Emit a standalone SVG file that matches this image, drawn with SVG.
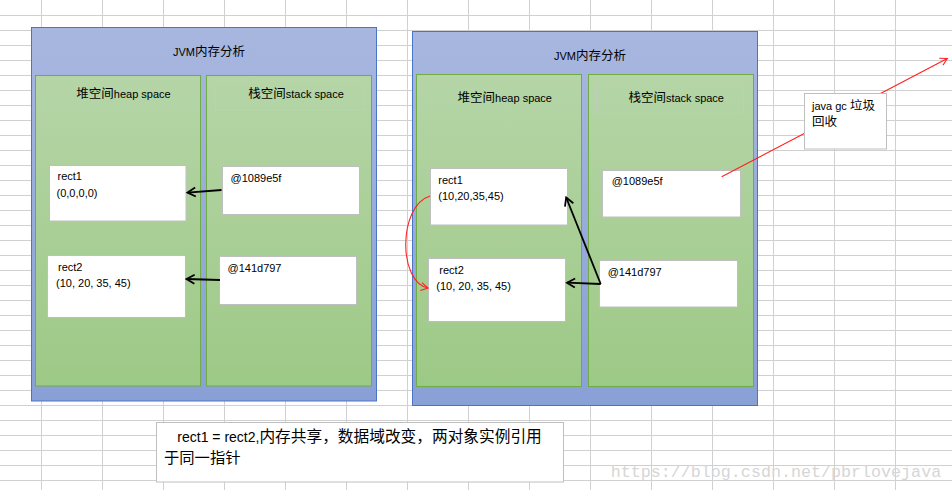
<svg xmlns="http://www.w3.org/2000/svg" width="952" height="490" viewBox="0 0 952 490">
<defs>
<linearGradient id="gBlue" x1="0" y1="0" x2="0" y2="1"><stop offset="0" stop-color="#a8b7df"/><stop offset="1" stop-color="#89a0d6"/></linearGradient>
<linearGradient id="gGreen" x1="0" y1="0" x2="0" y2="1"><stop offset="0" stop-color="#b5d5a7"/><stop offset="1" stop-color="#9dc986"/></linearGradient>
<marker id="ah" viewBox="-10 -6 12 12" refX="0" refY="0" markerWidth="12" markerHeight="12" markerUnits="userSpaceOnUse" orient="auto">
<path d="M-8,-4.5 L0,0 L-8,4.5" fill="none" stroke="#000" stroke-width="1.8"/>
</marker>
<marker id="ahr" viewBox="-10 -6 12 12" refX="0" refY="0" markerWidth="12" markerHeight="12" markerUnits="userSpaceOnUse" orient="auto">
<path d="M-7,-4 L0,0 L-7,4" fill="none" stroke="#ff2020" stroke-width="1.1"/>
</marker>
</defs>
<style>
.grid line{stroke:#d0d0d0;stroke-width:1}
.jvm{fill:url(#gBlue);stroke:#4a74c4;stroke-width:1}
.panel{fill:url(#gGreen);stroke:#6fac46;stroke-width:1}
.hdr{fill:none;stroke:#c2cbbd;stroke-width:1}
.box{fill:#fff;stroke:#bfbfbf;stroke-width:1}
text{font-family:"Liberation Sans","Noto Sans CJK SC",sans-serif;fill:#000;font-size:11px}
.cjk{font-family:"Noto Sans CJK SC","Liberation Sans",sans-serif;font-size:12.5px}
.arr{fill:none;stroke:#000;stroke-width:1.8;marker-end:url(#ah)}
.red{fill:none;stroke:#ff2020;stroke-width:1.1;marker-end:url(#ahr)}
</style>
<rect x="0" y="0" width="952" height="490" fill="#fff"/>
<g class="grid">
<line x1="41.5" y1="0" x2="41.5" y2="490"/><line x1="102.5" y1="0" x2="102.5" y2="490"/><line x1="163.5" y1="0" x2="163.5" y2="490"/><line x1="224.5" y1="0" x2="224.5" y2="490"/><line x1="285.5" y1="0" x2="285.5" y2="490"/><line x1="346.5" y1="0" x2="346.5" y2="490"/><line x1="407.5" y1="0" x2="407.5" y2="490"/><line x1="468.5" y1="0" x2="468.5" y2="490"/><line x1="529.5" y1="0" x2="529.5" y2="490"/><line x1="590.5" y1="0" x2="590.5" y2="490"/><line x1="651.5" y1="0" x2="651.5" y2="490"/><line x1="712.5" y1="0" x2="712.5" y2="490"/><line x1="773.5" y1="0" x2="773.5" y2="490"/><line x1="834.5" y1="0" x2="834.5" y2="490"/><line x1="895.5" y1="0" x2="895.5" y2="490"/>
<line x1="0" y1="15.5" x2="952" y2="15.5"/><line x1="0" y1="30.5" x2="952" y2="30.5"/><line x1="0" y1="45.5" x2="952" y2="45.5"/><line x1="0" y1="60.5" x2="952" y2="60.5"/><line x1="0" y1="75.5" x2="952" y2="75.5"/><line x1="0" y1="90.5" x2="952" y2="90.5"/><line x1="0" y1="105.5" x2="952" y2="105.5"/><line x1="0" y1="120.5" x2="952" y2="120.5"/><line x1="0" y1="135.5" x2="952" y2="135.5"/><line x1="0" y1="150.5" x2="952" y2="150.5"/><line x1="0" y1="165.5" x2="952" y2="165.5"/><line x1="0" y1="180.5" x2="952" y2="180.5"/><line x1="0" y1="195.5" x2="952" y2="195.5"/><line x1="0" y1="210.5" x2="952" y2="210.5"/><line x1="0" y1="225.5" x2="952" y2="225.5"/><line x1="0" y1="240.5" x2="952" y2="240.5"/><line x1="0" y1="255.5" x2="952" y2="255.5"/><line x1="0" y1="270.5" x2="952" y2="270.5"/><line x1="0" y1="285.5" x2="952" y2="285.5"/><line x1="0" y1="300.5" x2="952" y2="300.5"/><line x1="0" y1="315.5" x2="952" y2="315.5"/><line x1="0" y1="330.5" x2="952" y2="330.5"/><line x1="0" y1="345.5" x2="952" y2="345.5"/><line x1="0" y1="360.5" x2="952" y2="360.5"/><line x1="0" y1="375.5" x2="952" y2="375.5"/><line x1="0" y1="390.5" x2="952" y2="390.5"/><line x1="0" y1="405.5" x2="952" y2="405.5"/><line x1="0" y1="420.5" x2="952" y2="420.5"/><line x1="0" y1="435.5" x2="952" y2="435.5"/><line x1="0" y1="450.5" x2="952" y2="450.5"/><line x1="0" y1="465.5" x2="952" y2="465.5"/><line x1="0" y1="480.5" x2="952" y2="480.5"/>
</g>

<g id="jvm-left">
<rect class="jvm" x="31.5" y="27.5" width="345" height="373.5"/>
<text x="209" y="56" text-anchor="middle">JVM<tspan class="cjk">内存分析</tspan></text>
</g>
<g id="heap-left">
<rect class="panel" x="35.5" y="75.5" width="165" height="310.5"/>
<text x="123.5" y="98" text-anchor="middle"><tspan class="cjk">堆空间</tspan>heap space</text>
</g>
<g id="stack-left">
<rect class="panel" x="206.5" y="75.5" width="165" height="310.5"/>
<rect class="hdr" x="215.5" y="81.5" width="148" height="28"/>
<text x="296" y="98" text-anchor="middle"><tspan class="cjk">栈空间</tspan>stack space</text>
</g>
<g id="rect1-left">
<rect class="box" x="49.5" y="165.5" width="136.5" height="55.5"/>
<text x="57.5" y="179.5">rect1</text>
<text x="56.5" y="196.5">(0,0,0,0)</text>
</g>
<g id="ref1-left">
<rect class="box" x="222.5" y="166.5" width="137" height="48"/>
<text x="230.5" y="181.5">@1089e5f</text>
</g>
<g id="rect2-left">
<rect class="box" x="47.5" y="255.5" width="138" height="62"/>
<text x="58" y="270.5">rect2</text>
<text x="56" y="286.5">(10, 20, 35, 45)</text>
</g>
<g id="ref2-left">
<rect class="box" x="219.5" y="256.5" width="137" height="48"/>
<text x="227.5" y="271.5">@141d797</text>
</g>

<g id="jvm-right">
<rect class="jvm" x="412.5" y="31.5" width="345" height="374"/>
<text x="590" y="60" text-anchor="middle">JVM<tspan class="cjk">内存分析</tspan></text>
</g>
<g id="heap-right">
<rect class="panel" x="416.5" y="74.5" width="165" height="312"/>
<text x="504.8" y="101.7" text-anchor="middle"><tspan class="cjk">堆空间</tspan>heap space</text>
</g>
<g id="stack-right">
<rect class="panel" x="588.5" y="74.5" width="165" height="312"/>
<rect class="hdr" x="596.5" y="85.5" width="147" height="28"/>
<text x="676.2" y="101.7" text-anchor="middle"><tspan class="cjk">栈空间</tspan>stack space</text>
</g>
<g id="rect1-right">
<rect class="box" x="430.5" y="168.5" width="137" height="56.5"/>
<text x="438.3" y="184">rect1</text>
<text x="438.3" y="200">(10,20,35,45)</text>
</g>
<g id="rect2-right">
<rect class="box" x="428.5" y="258.5" width="137" height="63"/>
<text x="439.3" y="274">rect2</text>
<text x="436.3" y="290">(10, 20, 35, 45)</text>
</g>
<g id="ref1-right">
<rect class="box" x="602.5" y="170.5" width="138" height="46.5"/>
<text x="611.7" y="185">@1089e5f</text>
</g>
<g id="ref2-right">
<rect class="box" x="599.5" y="260.5" width="138" height="46.5"/>
<text x="607.7" y="276">@141d797</text>
</g>

<g id="connectors">
<line class="arr" x1="221.5" y1="190" x2="187.5" y2="192.6"/>
<line class="arr" x1="220" y1="280" x2="186.5" y2="279"/>
<line class="arr" x1="600.7" y1="284" x2="567" y2="282.7"/>
<line class="arr" x1="600.7" y1="284" x2="566.2" y2="197.5"/>
<path class="red" d="M430,196 C398,206 398,282 428,288"/>
<line class="red" x1="721.7" y1="176.7" x2="947.3" y2="58.5"/>
</g>

<g id="gc-note">
<rect class="box" x="804.5" y="93.5" width="82" height="55.5"/>
<text x="812" y="110">java gc <tspan class="cjk">垃圾</tspan></text>
<text x="812" y="126" class="cjk">回收</text>
</g>

<g id="caption">
<rect class="box" x="156.5" y="422.5" width="407" height="59.5"/>
<text x="177.3" y="441.7" style="font-size:14px">rect1 = rect2,<tspan class="cjk" style="font-size:15.7px">内存共享，数据域改变，两对象实例引用</tspan></text>
<text x="164" y="462.7" class="cjk" style="font-size:15.3px">于同一指针</text>
</g>

<text x="610.7" y="476.7" style="font-family:'Liberation Mono',monospace;font-size:16.7px;fill:#d6d6d6">https://blog.csdn.net/pbrlovejava</text>
</svg>
